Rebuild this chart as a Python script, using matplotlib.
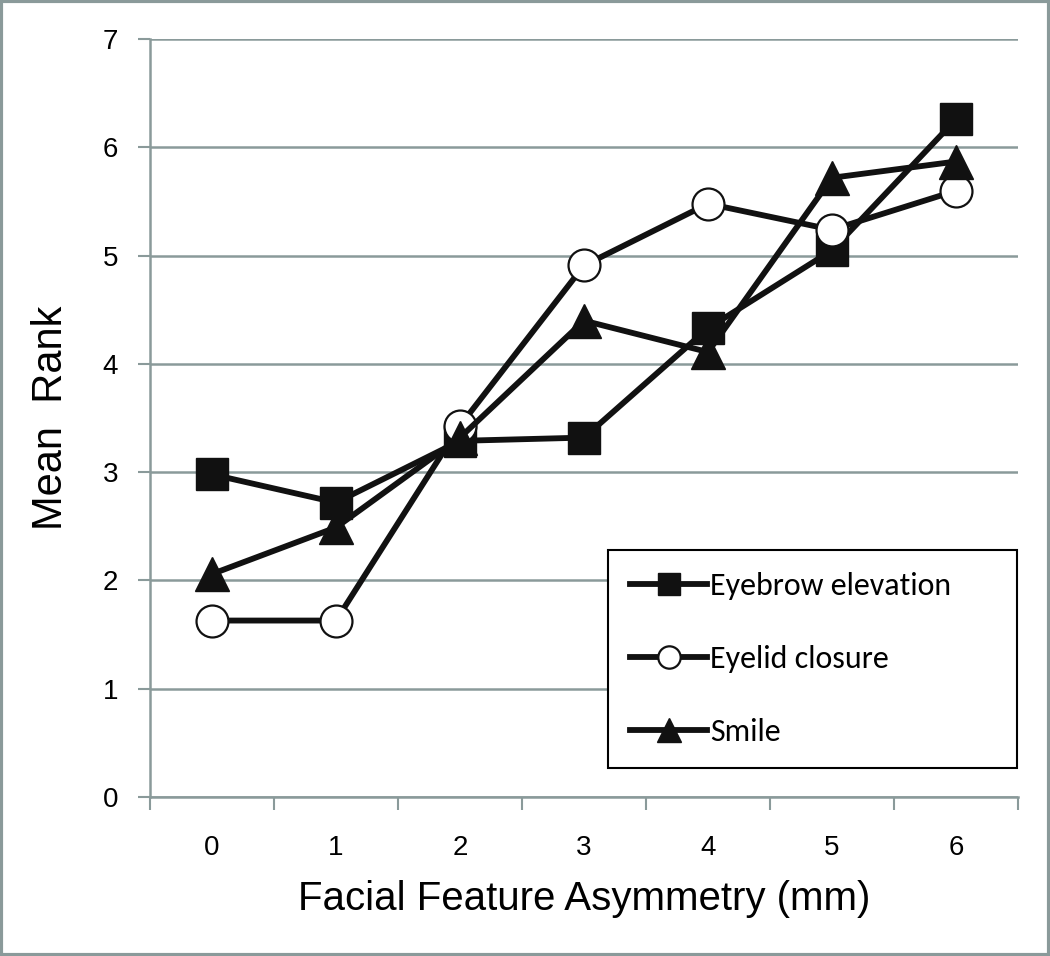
import matplotlib
matplotlib.use("Agg")
import matplotlib.pyplot as plt
from matplotlib.patches import Rectangle

categories = ["0", "1", "2", "3", "4", "5", "6"]
eyebrow = [2.98, 2.72, 3.29, 3.32, 4.33, 5.05, 6.26]
eyelid = [1.63, 1.63, 3.43, 4.91, 5.48, 5.24, 5.60]
smile = [2.06, 2.49, 3.32, 4.40, 4.11, 5.72, 5.87]
series_names = ["Eyebrow elevation", "Eyelid closure", "Smile"]

plt.rcParams['font.family'] = ['Liberation Sans', 'DejaVu Sans']

fig = plt.figure(figsize=(10.5, 9.56), dpi=100)
ax = fig.add_axes([0.1429, 0.1663, 0.9695 - 0.1429, 0.959 - 0.1663])

grid_c = '#8a9a9a'
x = list(range(len(categories)))
ax.plot(x, eyebrow, color='#111111', lw=4.2, marker='s', ms=23,
        mfc='#111111', mec='#111111', label=series_names[0], zorder=3)
ax.plot(x, eyelid, color='#111111', lw=4.2, marker='o', ms=23,
        mfc='white', mec='#111111', mew=1.6, label=series_names[1], zorder=3)
ax.plot(x, smile, color='#111111', lw=4.2, marker='^', ms=24,
        mfc='#111111', mec='#111111', label=series_names[2], zorder=3)

ax.set_xlim(-0.5, 6.5)
ax.set_ylim(0, 7)
ax.set_yticks(range(0, 8))
ax.set_xticks(x)
ax.set_xticklabels(categories)
ax.set_xticks([i - 0.5 for i in range(8)], minor=True)
ax.tick_params(axis='x', which='major', length=0, pad=27, labelsize=20)
ax.tick_params(axis='x', which='minor', length=9, width=1.5, color=grid_c)
ax.tick_params(axis='y', length=9, width=1.5, color=grid_c, pad=14, labelsize=20)
ax.yaxis.grid(True, color=grid_c, lw=1.8)
ax.set_axisbelow(True)
for s in ['top', 'right']:
    ax.spines[s].set_visible(False)
for s in ['left', 'bottom']:
    ax.spines[s].set_color(grid_c)
    ax.spines[s].set_linewidth(1.8)

ax.set_xlabel("Facial Feature Asymmetry (mm)", fontsize=29, labelpad=14)
ax.set_ylabel("Mean  Rank", fontsize=30, labelpad=23)

leg = ax.legend(loc='lower left', bbox_to_anchor=(0.5277, 0.038, 0.471, 0.285),
                mode='expand', fontsize=23, frameon=True, fancybox=False,
                markerscale=0.7, handlelength=2.4, handletextpad=0.1,
                labelspacing=1.4, borderpad=0.7, borderaxespad=0)
leg.get_frame().set_edgecolor('black')
leg.get_frame().set_linewidth(1.5)
leg.get_frame().set_alpha(1)
for t in leg.get_texts():
    t.set_family(['Carlito', 'Liberation Sans', 'DejaVu Sans'])

fig.patches.append(Rectangle((0.001, 0.001), 0.998, 0.998, transform=fig.transFigure,
                             fill=False, edgecolor='#8a9a9a', lw=3))

fig.savefig("out.png", dpi=100)
